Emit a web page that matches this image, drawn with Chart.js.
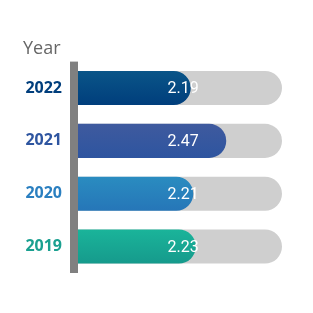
<!DOCTYPE html>
<html>
<head>
<meta charset="utf-8">
<script src="https://cdn.jsdelivr.net/npm/chart.js@4/dist/chart.umd.min.js"></script>
<style>
  html, body { margin: 0; padding: 0; background: #fff; }
  #wrap { width: 313px; height: 313px; }
</style>
</head>
<body>
<div id="wrap"><canvas id="chart"></canvas></div>
<script>
// data
const years = ['2022', '2021', '2020', '2019'];
const scores = [2.19, 2.47, 2.21, 2.23];
const trackMax = 2.91;     // end of the grey track
const axisMin = 1.3;

// top / bottom colour of each bar gradient, and the year label colours
const topColors = ['#0a5588', '#3f5a9e', '#2a8cc0', '#1ab49a'];
const bottomColors = ['#003e7c', '#2e55a0', '#2676b8', '#169a8c'];
const labelColors = ['#003e7c', '#2e55a0', '#2a7fc0', '#1aa090'];

const barFrac = 0.645;

// vertical gradient per bar, built from the y scale
function barGradient(ctx){
    const chart = ctx.chart;
    const y = chart.scales.y;
    if(!y || !chart.chartArea) return topColors[ctx.dataIndex];
    const c = y.getPixelForValue(ctx.dataIndex);
    const half = (y.height / years.length) * barFrac / 2;
    const g = chart.ctx.createLinearGradient(0, c - half, 0, c + half);
    g.addColorStop(0, topColors[ctx.dataIndex]);
    g.addColorStop(1, bottomColors[ctx.dataIndex]);
    return g;
}

// grey axis bar on the left and the value labels
const extras = {
    id: 'extras',
    beforeDatasetsDraw(chart){
        const a = chart.chartArea, c = chart.ctx;
        c.save();
        c.fillStyle = '#808080';
        c.fillRect(a.left - 8, a.top, 8, a.bottom - a.top);
        c.restore();
    },
    afterDatasetsDraw(chart){
        const c = chart.ctx, x = chart.scales.x, y = chart.scales.y;
        c.save();
        c.fillStyle = '#ffffff';
        c.font = '16px Roboto';
        c.textAlign = 'center';
        c.textBaseline = 'middle';
        scores.forEach((v, i) => {
            c.fillText(v.toFixed(2), x.getPixelForValue(2.13), y.getPixelForValue(i) + 1);
        });
        c.restore();
    }
};

new Chart(document.getElementById('chart'), {
    type: 'bar',
    data: {
        labels: years,
        datasets: [{
            data: scores,
            backgroundColor: barGradient,
            borderRadius: 20,
            borderSkipped: 'start',
            barPercentage: 1,
            categoryPercentage: barFrac,
            grouped: false
        },
        {
            data: years.map(() => trackMax),
            backgroundColor: '#cfcfcf',
            borderRadius: 20,
            borderSkipped: 'start',
            barPercentage: 1,
            categoryPercentage: barFrac,
            grouped: false
        }]
    },
    options: {
        indexAxis: 'y',
        responsive: true,
        maintainAspectRatio: false,
        animation: false,
        layout: { padding: { left: 23, right: 31, top: 0, bottom: 40 } },
        plugins: {
            legend: { display: false },
            tooltip: { enabled: false },
            title: {
                display: true,
                text: 'Year',
                align: 'start',
                color: '#666666',
                font: { family: 'Open Sans', size: 18, weight: 'normal' },
                padding: { top: 38, bottom: 2 }
            }
        },
        scales: {
            x: {
                display: false,
                min: axisMin,
                max: trackMax
            },
            y: {
                afterFit: s => { s.width = 55; },
                border: { display: false },
                grid: { display: false, drawTicks: false },
                ticks: {
                    padding: 16,
                    color: labelColors,
                    font: { family: 'Open Sans', size: 16, weight: 'bold' }
                }
            }
        }
    },
    plugins: [extras]
});
</script>
</body>
</html>
